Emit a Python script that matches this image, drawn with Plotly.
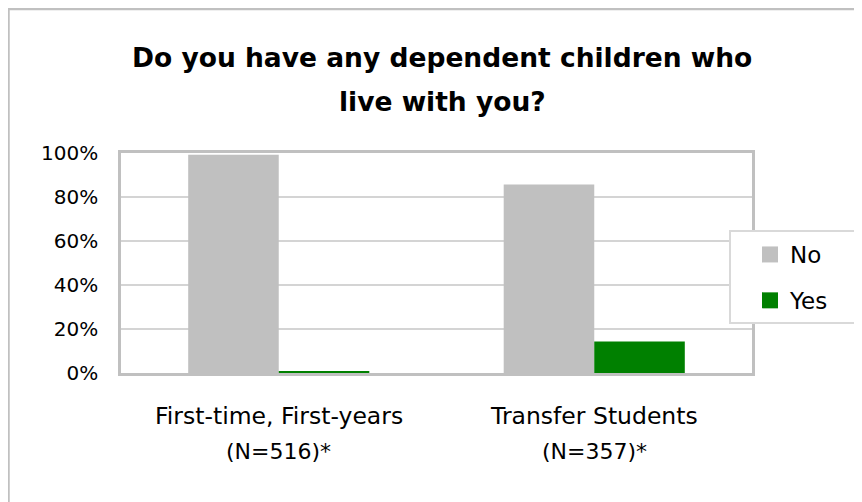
import plotly.graph_objects as go

categories = ["First-time, First-years", "Transfer Students"]
category_notes = ["(N=516)*", "(N=357)*"]
series_names = ["No", "Yes"]
no_values = [99.2, 85.7]
yes_values = [0.8, 14.3]
series_colors = ["#c0c0c0", "#008000"]
y_tick_vals = [0, 20, 40, 60, 80, 100]
y_tick_text = ["0%", "20%", "40%", "60%", "80%", "100%"]
title_lines = ["Do you have any dependent children who", "live with you?"]

FONT = "DejaVu Sans, Tahoma, Verdana, sans-serif"
W, H = 854, 494
L, R, T, B = 113, 110, 145, 129
ph = H - T - B
pw = W - L - R

def py(px):
    return (H - B - px) / ph

def pxx(px):
    return (px - L) / pw

fig = go.Figure()
for name, vals, col, grp in zip(series_names, [no_values, yes_values], series_colors, ["a", "b"]):
    fig.add_trace(go.Bar(x=categories, y=vals, name=name,
                         marker=dict(color=col, line=dict(width=0)),
                         legendgroup=grp, showlegend=False))
    # legend proxy with a larger square swatch
    fig.add_trace(go.Scatter(x=[None], y=[None], name=name, mode="markers",
                             marker=dict(symbol="square", size=18, color=col,
                                         line=dict(width=0)),
                             legendgroup=grp, showlegend=True, hoverinfo="skip"))

annotations = []
for i, line in enumerate(title_lines):
    annotations.append(dict(text="<b>" + line + "</b>", x=pxx(434), y=py([50, 93][i]),
                            xref="paper", yref="paper", showarrow=False,
                            xanchor="center", yanchor="middle",
                            font=dict(family=FONT, size=26.5, color="#000000")))
for c, n in zip(categories, category_notes):
    annotations.append(dict(text=c, x=c, y=py(408), xref="x", yref="paper",
                            showarrow=False, xanchor="center", yanchor="middle",
                            font=dict(family=FONT, size=23.5, color="#000000")))
    annotations.append(dict(text=n, x=c, y=py(443), xref="x", yref="paper",
                            showarrow=False, xanchor="center", yanchor="middle",
                            font=dict(family=FONT, size=22, color="#000000")))

shapes = [
    dict(type="line", xref="paper", yref="paper", x0=pxx(0), x1=pxx(W + 5),
         y0=py(1), y1=py(1), line=dict(color="#c0c0c0", width=2.5)),
    dict(type="line", xref="paper", yref="paper", x0=pxx(0.5), x1=pxx(0.5),
         y0=py(0), y1=py(H + 5), line=dict(color="#c0c0c0", width=2.5)),
    dict(type="rect", xref="paper", yref="paper", layer="above",
         x0=pxx(722), x1=pxx(848), y0=py(223), y1=py(315),
         fillcolor="white", line=dict(color="#d9d9d9", width=2)),
]

fig.update_layout(
    width=W, height=H,
    margin=dict(l=L, r=R, t=T, b=B, pad=0),
    paper_bgcolor="white", plot_bgcolor="white",
    barmode="group", bargap=0.426, bargroupgap=0,
    font=dict(family=FONT, size=20, color="#000000"),
    showlegend=True,
    legend=dict(x=pxx(742), y=py(225), xanchor="left", yanchor="top",
                bgcolor="rgba(0,0,0,0)", borderwidth=0,
                font=dict(family=FONT, size=23, color="#000000"),
                tracegroupgap=13, itemwidth=30, itemsizing="trace"),
    annotations=annotations,
    shapes=shapes,
)
fig.update_xaxes(showticklabels=False, showgrid=False, showline=True, mirror=True,
                 linecolor="#c0c0c0", linewidth=2.5, ticks="")
fig.update_yaxes(range=[0, 100], tickvals=y_tick_vals, ticktext=y_tick_text,
                 showgrid=True, gridcolor="#d4d4d4", gridwidth=1.5,
                 showline=True, mirror=True, linecolor="#c0c0c0", linewidth=2.5,
                 ticks="", ticklabelstandoff=16, zeroline=False,
                 tickfont=dict(family=FONT, size=20, color="#000000"))

fig.write_html("out.html")
